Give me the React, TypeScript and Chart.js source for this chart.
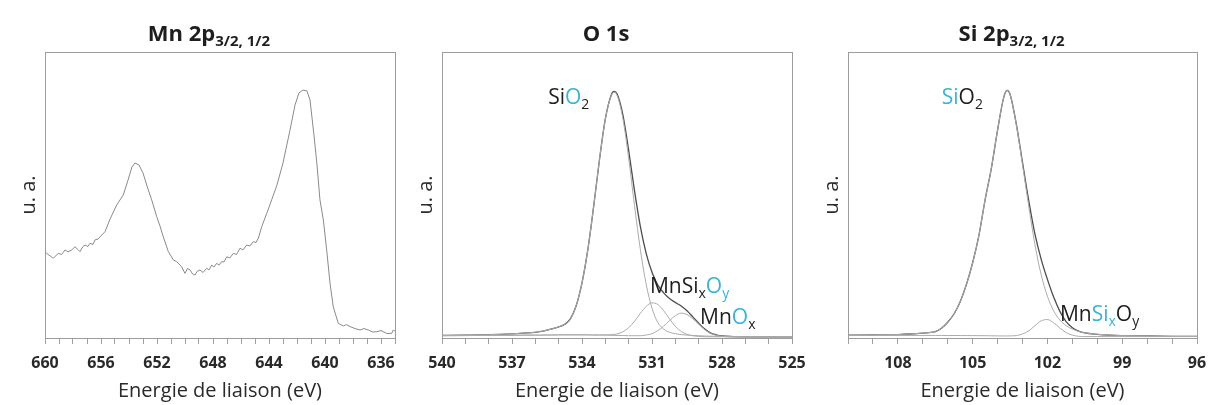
import React, { useEffect, useRef } from 'react';
import { Chart, registerables } from 'chart.js';

Chart.register(...registerables);

const W = 1208;
const H = 405;
const FONT = '"Open Sans", "DejaVu Sans", sans-serif';
const CYAN = '#35b4de';
const INK = '#1e1e1e';

// ---------- Mn 2p ----------
const mnEnergy = [660.0, 659.88, 659.64, 659.41, 659.05, 658.81, 658.57, 658.36, 658.09, 657.86, 657.64, 657.5, 657.29, 657.14, 656.93, 656.79, 656.57, 656.43, 656.21, 655.95, 655.71, 655.36, 654.88, 654.41, 654.07, 653.79, 653.57, 653.29, 653.0, 652.71, 652.38, 652.02, 651.79, 651.55, 651.19, 651.0, 650.84, 650.59, 650.43, 650.24, 650.0, 649.82, 649.64, 649.46, 649.29, 649.11, 648.93, 648.71, 648.45, 648.29, 648.09, 647.93, 647.74, 647.57, 647.38, 647.21, 647.02, 646.79, 646.55, 646.32, 646.07, 645.86, 645.59, 645.36, 645.12, 644.93, 644.76, 644.52, 644.16, 643.81, 643.43, 643.0, 642.5, 642.14, 641.86, 641.57, 641.29, 641.07, 640.79, 640.57, 640.36, 640.12, 639.88, 639.64, 639.41, 639.05, 638.69, 638.46, 638.21, 637.86, 637.5, 637.21, 636.91, 636.61, 636.31, 636.0, 635.59, 635.24, 635.12, 635.0];
const mnIntensity = [30.1, 29.6, 28.7, 27.9, 29.6, 29.2, 30.8, 30.1, 30.8, 31.9, 30.9, 30.2, 32.0, 32.5, 32.0, 33.1, 32.7, 34.3, 34.6, 36.0, 37.2, 41.5, 46.5, 50.0, 55.2, 59.8, 61.2, 60.5, 57.7, 53.1, 48.3, 42.4, 39.2, 35.4, 30.2, 28.7, 27.3, 26.7, 25.9, 24.9, 22.6, 24.3, 23.8, 22.4, 22.0, 23.4, 23.8, 22.9, 24.4, 23.8, 25.5, 24.8, 26.1, 25.5, 26.7, 26.6, 28.4, 28.0, 29.6, 29.2, 31.4, 30.8, 32.5, 32.2, 33.7, 33.4, 34.9, 38.9, 43.6, 48.3, 53.5, 61.2, 72.7, 81.5, 85.7, 86.7, 86.4, 83.2, 71.0, 60.5, 48.3, 41.3, 30.8, 19.1, 10.9, 5.1, 4.2, 4.7, 4.0, 3.3, 2.8, 3.3, 2.8, 2.1, 2.2, 2.6, 1.6, 1.6, 2.8, 2.4];
const mnTickLabels = [660, 656, 652, 648, 644, 640, 636];

// ---------- O 1s ----------
const o1sEnergy = [540, 539, 538, 537, 536.5, 536, 535.75, 535.5, 535.25, 535, 534.75, 534.5, 534.25, 534, 533.75, 533.5, 533.25, 533, 532.75, 532.625, 532.5, 532.25, 532, 531.75, 531.5, 531.25, 531, 530.75, 530.5, 530.25, 530, 529.75, 529.5, 529.25, 529, 528.75, 528.5, 528.25, 528, 527.5, 527, 526, 525];
const o1sEnvelope = [0.9, 1.0, 1.15, 1.45, 1.7, 2.0, 2.3, 2.75, 3.25, 3.9, 4.7, 6.7, 11.3, 19.3, 30.9, 46.0, 62.4, 76.6, 84.9, 86.2, 85.4, 78.1, 65.6, 51.5, 39.0, 29.6, 23.0, 18.5, 15.8, 13.8, 12.4, 11.2, 9.5, 7.4, 5.2, 3.2, 1.8, 1.1, 0.7, 0.5, 0.43, 0.37, 0.3];
const o1sSiO2 = [0.9, 1.0, 1.15, 1.45, 1.7, 2.0, 2.3, 2.75, 3.25, 3.9, 4.7, 6.7, 11.3, 19.3, 30.9, 46.0, 62.4, 76.5, 84.7, 85.9, 84.9, 76.8, 62.8, 46.3, 31.0, 18.8, 10.4, 5.4, 3.1, 2.0, 1.5, 1.2, 1.0, 0.9, 0.8, 0.7, 0.64, 0.58, 0.52, 0.48, 0.43, 0.37, 0.3];
const o1sMnSixOy = [0.8, 0.85, 0.9, 0.95, 1.0, 1.0, 1.0, 1.05, 1.05, 1.1, 1.1, 1.1, 1.1, 1.1, 1.1, 1.05, 1.05, 1.1, 1.15, 1.25, 1.4, 2.15, 3.6, 5.85, 8.6, 11.05, 12.3, 11.7, 9.55, 6.7, 4.1, 2.3, 1.28, 0.77, 0.56, 0.45, 0.44, 0.43, 0.42, 0.4, 0.38, 0.35, 0.3];
const o1sMnOx = [0.8, 0.85, 0.9, 0.95, 1.0, 1.0, 1.0, 1.05, 1.05, 1.1, 1.1, 1.1, 1.1, 1.1, 1.1, 1.05, 1.05, 1.0, 0.95, 0.9, 0.9, 0.85, 0.8, 0.8, 0.8, 1.05, 1.5, 2.6, 4.15, 6.1, 7.8, 8.7, 8.2, 6.7, 4.8, 2.95, 1.64, 0.93, 0.62, 0.45, 0.38, 0.35, 0.3];
const o1sTickLabels = [540, 537, 534, 531, 528, 525];

// ---------- Si 2p ----------
const si2pEnergy = [110, 109, 108, 107.5, 107, 106.75, 106.5, 106.25, 106, 105.75, 105.5, 105.25, 105, 104.75, 104.5, 104.25, 104, 103.75, 103.62, 103.5, 103.25, 103, 102.75, 102.5, 102.25, 102, 101.75, 101.5, 101.25, 101, 100.75, 100.5, 100, 99.5, 99, 98, 97, 96];
const si2pEnvelope = [1.0, 1.05, 1.2, 1.4, 1.7, 1.9, 2.2, 3.4, 5.5, 8.4, 12.7, 18.7, 26.3, 35.8, 48.3, 59.3, 72.7, 84.2, 86.6, 85.25, 74.9, 61.4, 48.0, 36.3, 27.5, 20.5, 14.3, 9.3, 5.7, 3.6, 2.4, 1.8, 1.3, 1.0, 0.85, 0.7, 0.6, 0.55];
const si2pSiO2 = [1.0, 1.05, 1.2, 1.4, 1.7, 1.9, 2.2, 3.4, 5.5, 8.4, 12.7, 18.7, 26.3, 35.8, 48.3, 59.3, 72.7, 84.2, 86.6, 85.2, 74.7, 60.6, 46.1, 32.6, 22.1, 14.6, 9.5, 6.3, 4.3, 3.1, 2.3, 1.8, 1.3, 1.0, 0.85, 0.7, 0.6, 0.55];
const si2pMnSixOy = [0.9, 0.9, 0.9, 0.9, 0.9, 0.9, 0.9, 0.9, 0.88, 0.87, 0.86, 0.85, 0.84, 0.82, 0.8, 0.77, 0.74, 0.71, 0.7, 0.73, 0.85, 1.4, 2.5, 4.3, 6.0, 6.45, 5.3, 3.5, 1.9, 1.0, 0.6, 0.5, 0.5, 0.5, 0.5, 0.5, 0.5, 0.5];
const si2pTickLabels = [108, 105, 102, 99, 96];

type Seg = { t: string; c?: string; sub?: boolean };
type Series = { x: number[]; y: number[]; color: string; width: number; smooth: boolean };
type Note = { segs: Seg[]; x: number; y: number };
type Panel = {
  title: Seg[];
  xMin: number;
  xMax: number;
  majors: number[];
  series: Series[];
  notes: Note[];
  left: number;
  right: number;
};

const ENV = '#4d4d4d';
const COMP = '#ababab';

const panels: Panel[] = [
  {
    title: [{ t: 'Mn 2p' }, { t: '3/2, 1/2', sub: true }],
    xMin: 635, xMax: 660, majors: mnTickLabels,
    series: [{ x: mnEnergy, y: mnIntensity, color: '#8a8a8a', width: 1, smooth: false }],
    notes: [],
    left: 45, right: 395,
  },
  {
    title: [{ t: 'O 1s' }],
    xMin: 525, xMax: 540, majors: o1sTickLabels,
    series: [
      { x: o1sEnergy, y: o1sMnOx, color: COMP, width: 1, smooth: true },
      { x: o1sEnergy, y: o1sMnSixOy, color: COMP, width: 1, smooth: true },
      { x: o1sEnergy, y: o1sSiO2, color: COMP, width: 1, smooth: true },
      { x: o1sEnergy, y: o1sEnvelope, color: ENV, width: 1.3, smooth: true },
    ],
    notes: [
      { segs: [{ t: 'Si' }, { t: 'O', c: CYAN }, { t: '2', sub: true }], x: 535.45, y: 81.8 },
      { segs: [{ t: 'MnSi' }, { t: 'x', sub: true }, { t: 'O', c: CYAN }, { t: 'y', sub: true, c: CYAN }], x: 531.09, y: 15.9 },
      { segs: [{ t: 'Mn' }, { t: 'O', c: CYAN }, { t: 'x', sub: true }], x: 528.94, y: 4.9 },
    ],
    left: 442, right: 792,
  },
  {
    title: [{ t: 'Si 2p' }, { t: '3/2, 1/2', sub: true }],
    xMin: 96, xMax: 110, majors: si2pTickLabels,
    series: [
      { x: si2pEnergy, y: si2pMnSixOy, color: COMP, width: 1, smooth: true },
      { x: si2pEnergy, y: si2pSiO2, color: COMP, width: 1, smooth: true },
      { x: si2pEnergy, y: si2pEnvelope, color: ENV, width: 1.3, smooth: true },
    ],
    notes: [
      { segs: [{ t: 'Si', c: CYAN }, { t: 'O' }, { t: '2', sub: true }], x: 106.24, y: 81.8 },
      { segs: [{ t: 'Mn' }, { t: 'Si', c: CYAN }, { t: 'x', sub: true, c: CYAN }, { t: 'O' }, { t: 'y', sub: true }], x: 101.5, y: 5.9 },
    ],
    left: 848, right: 1197,
  },
];

function drawRich(ctx: CanvasRenderingContext2D, segs: Seg[], x: number, y: number, size: number, weight: string, align: 'left' | 'center') {
  const subSize = Math.round(size * 0.66);
  const font = (s: number) => `${weight} ${s}px ${FONT}`;
  let total = 0;
  const widths = segs.map((s) => {
    ctx.font = font(s.sub ? subSize : size);
    const w = ctx.measureText(s.t).width;
    total += w;
    return w;
  });
  let cx = align === 'center' ? x - total / 2 : x;
  ctx.textAlign = 'left';
  ctx.textBaseline = 'alphabetic';
  segs.forEach((s, i) => {
    ctx.font = font(s.sub ? subSize : size);
    ctx.fillStyle = s.c || INK;
    ctx.fillText(s.t, cx, s.sub ? y + size * 0.24 : y);
    cx += widths[i];
  });
}

const richPlugin = {
  id: 'rich',
  afterDraw(chart: any, _args: any, opts: any) {
    const { ctx, chartArea: a, scales } = chart;
    ctx.save();
    ctx.strokeStyle = '#9c9c9c';
    ctx.lineWidth = 1;
    ctx.strokeRect(Math.round(a.left) + 0.5, Math.round(a.top) + 0.5, Math.round(a.right - a.left), Math.round(a.bottom - a.top));
    drawRich(ctx, opts.title, (a.left + a.right) / 2 - 11, a.top - 11, 22, 'bold', 'center');
    for (const n of opts.notes as Note[]) {
      drawRich(ctx, n.segs, scales.x.getPixelForValue(n.x), scales.y.getPixelForValue(n.y), 21, 'normal', 'left');
    }
    ctx.restore();
  },
};

function PanelChart({ panel }: { panel: Panel }) {
  const ref = useRef<HTMLCanvasElement>(null);
  useEffect(() => {
    const allTicks: number[] = [];
    for (let v = Math.ceil(panel.xMin); v <= panel.xMax; v++) allTicks.push(v);
    const chart = new Chart(ref.current!, {
      type: 'line',
      data: {
        datasets: panel.series.map((s) => ({
          data: s.x.map((xv, i) => ({ x: xv, y: s.y[i] })),
          borderColor: s.color,
          borderWidth: s.width,
          pointRadius: 0,
          fill: false,
          tension: 0,
          cubicInterpolationMode: s.smooth ? 'monotone' : 'default',
        })) as any,
      },
      options: {
        animation: false,
        responsive: false,
        events: [],
        layout: {
          autoPadding: false,
          padding: { left: panel.left - 32, right: W - panel.right, top: 52, bottom: 0 },
        } as any,
        plugins: {
          legend: { display: false },
          tooltip: { enabled: false },
          rich: { title: panel.title, notes: panel.notes },
        } as any,
        scales: {
          x: {
            type: 'linear',
            min: panel.xMin,
            max: panel.xMax,
            reverse: true,
            afterBuildTicks: (s: any) => {
              s.ticks = allTicks.map((v) => ({ value: v }));
            },
            afterFit: (s: any) => {
              s.height = 67;
            },
            ticks: {
              autoSkip: false,
              maxRotation: 0,
              padding: 10,
              color: '#2a2a2a',
              font: { family: FONT, size: 16, weight: 'bold' },
              callback: (v: any) => (panel.majors.includes(Number(v)) ? String(v) : ''),
            },
            grid: { display: true, drawOnChartArea: false, drawTicks: true, tickLength: 6, color: '#a0a0a0' },
            border: { display: false },
            title: {
              display: true,
              text: 'Energie de liaison (eV)',
              color: '#2a2a2a',
              font: { family: FONT, size: 20 },
              padding: { top: 0, bottom: 2 },
            },
          },
          y: {
            min: 0,
            max: 100,
            afterFit: (s: any) => {
              s.width = 32;
            },
            ticks: { display: false },
            grid: { display: false },
            border: { display: false },
            title: {
              display: true,
              text: 'u. a.',
              color: '#2a2a2a',
              font: { family: FONT, size: 20 },
              padding: { top: 4, bottom: 0 },
            },
          },
        } as any,
      },
      plugins: [richPlugin],
    });
    return () => chart.destroy();
  }, [panel]);
  return <canvas ref={ref} width={W} height={H} style={{ position: 'absolute', left: 0, top: 0, width: W, height: H }} />;
}

export default function App() {
  return (
    <div style={{ position: 'fixed', left: 0, top: 0, width: W, height: H, background: '#ffffff', overflow: 'hidden' }}>
      {panels.map((p, i) => (
        <PanelChart key={i} panel={p} />
      ))}
    </div>
  );
}
